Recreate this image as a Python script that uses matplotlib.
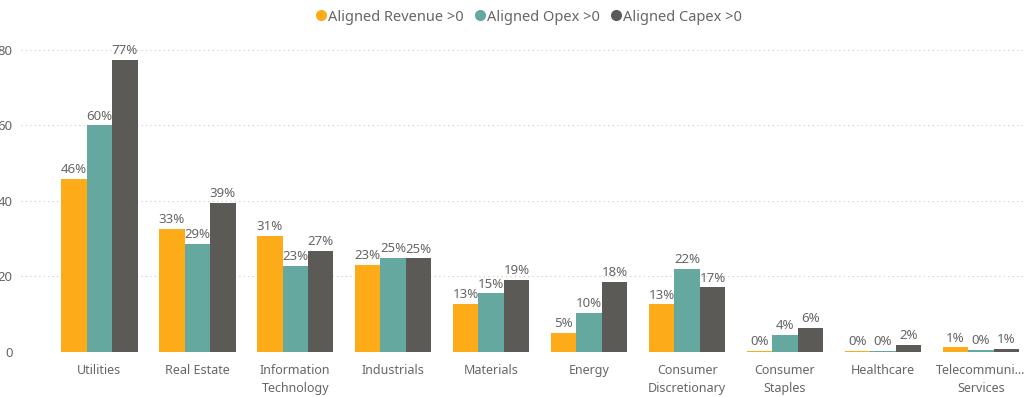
import matplotlib
matplotlib.use('Agg')
import matplotlib.pyplot as plt
from matplotlib.lines import Line2D
import numpy as np

plt.rcParams['font.family'] = ['Noto Sans', 'DejaVu Sans']

categories = ['Utilities', 'Real Estate', 'Information\nTechnology', 'Industrials', 'Materials',
              'Energy', 'Consumer\nDiscretionary', 'Consumer\nStaples', 'Healthcare',
              'Telecommuni...\nServices']
series_names = ['Aligned Revenue >0', 'Aligned Opex >0', 'Aligned Capex >0']
revenue = [45.8, 32.6, 30.7, 23.0, 12.7, 5.0, 12.6, 0.3, 0.3, 1.2]
opex = [60.0, 28.6, 22.9, 25.0, 15.5, 10.3, 22.0, 4.5, 0.3, 0.5]
capex = [77.3, 39.4, 26.8, 24.8, 19.0, 18.5, 17.1, 6.3, 1.9, 0.8]
value_labels = [
    ['46%', '33%', '31%', '23%', '13%', '5%', '13%', '0%', '0%', '1%'],
    ['60%', '29%', '23%', '25%', '15%', '10%', '22%', '4%', '0%', '0%'],
    ['77%', '39%', '27%', '25%', '19%', '18%', '17%', '6%', '2%', '1%'],
]
colors = ['#FDAB19', '#64A89F', '#5B5A57']
text_grey = '#666666'

fig = plt.figure(figsize=(10.25, 3.97), dpi=100)
ax = fig.add_axes([0.0205, 0.1134, 0.9795, 0.8083])

x = np.arange(len(categories))
width = 0.26
for i, vals in enumerate([revenue, opex, capex]):
    pos = x + (i - 1) * width
    bars = ax.bar(pos, vals, width, color=colors[i], zorder=3)
    for b, lab in zip(bars, value_labels[i]):
        ax.annotate(lab, (b.get_x() + b.get_width() / 2, b.get_height()),
                    xytext=(0, 2), textcoords='offset points',
                    ha='center', va='bottom', fontsize=9.5, color=text_grey)

ax.set_xlim(-0.8, 9.45)
ax.set_ylim(0, 85)
ax.set_yticks([0, 20, 40, 60, 80])
ax.set_xticks(x)
ax.set_xticklabels(categories, fontsize=9, color=text_grey, linespacing=1.5)
ax.tick_params(axis='y', labelsize=9.5, colors=text_grey, length=0, pad=6)
ax.tick_params(axis='x', length=0, pad=9)
ax.grid(axis='y', linestyle=(0, (1, 3)), color='#c8c8c8', linewidth=0.8, zorder=0)
for s in ax.spines.values():
    s.set_visible(False)

handles = [Line2D([], [], marker='o', linestyle='', color=c, markersize=7) for c in colors]
fig.legend(handles, series_names, loc='center', bbox_to_anchor=(0.515, 0.957), ncol=3,
           frameon=False, fontsize=10.5, labelcolor=text_grey, handletextpad=0.0,
           columnspacing=0.6, handlelength=1.0)

plt.savefig('out.png', dpi=100)
